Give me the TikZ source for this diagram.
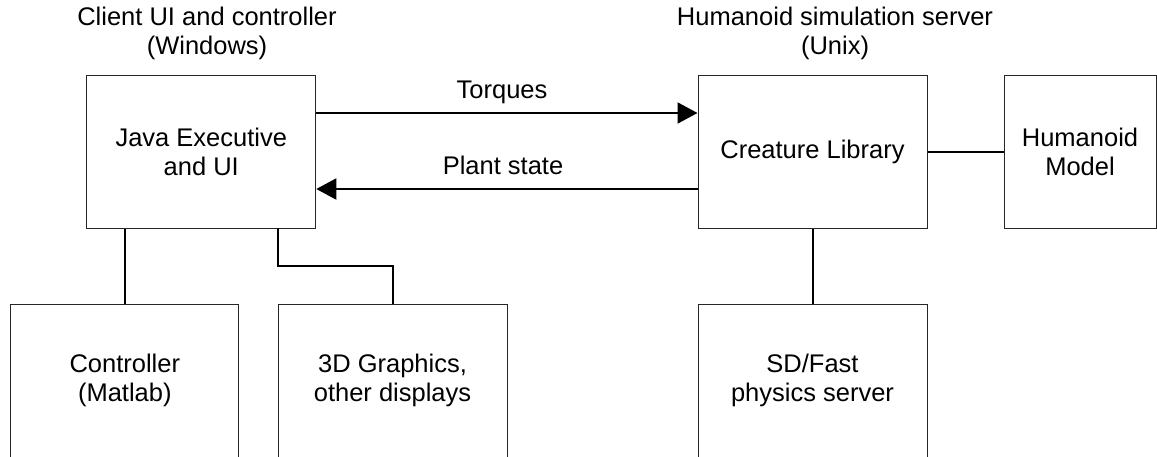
\documentclass[tikz,border=0pt]{standalone}
\usepackage{fontspec}
\setmainfont{Liberation Sans}
\usetikzlibrary{arrows.meta,calc}
\tikzset{
  box/.style={draw=black!85, line width=1pt, minimum width=229pt, minimum height=153pt, inner sep=0pt, align=center, font=\fontsize{25.5}{29}\selectfont},
  lbl/.style={inner sep=0pt, align=center, font=\fontsize{25.5}{29}\selectfont},
  conn/.style={draw=black, line width=2pt},
  arr/.style={conn, -{Triangle[length=20pt,width=21pt]}}
}
\begin{document}
\begin{tikzpicture}[x=1pt,y=-1pt]
\useasboundingbox (0,0) rectangle (1157,456);
\node[box] (java) at (201.3,151.5) {Java Executive\\and UI};
\node[box] (cre) at (812.5,151.5) {Creature Library};
\node[box, minimum width=152pt] (hum) at (1080,151.5) {Humanoid\\Model};
\node[box, minimum width=228.3pt] (ctrl) at (124.8,380.5) {Controller\\(Matlab)};
\node[box] (gfx) at (392.5,380.5) {3D Graphics,\\other displays};
\node[box] (sdf) at (812.5,380.5) {SD/Fast\\physics server};
\node[lbl] (tclient) at (207,33.5) {Client UI and controller\\(Windows)};
\node[lbl] (tserver) at (835,33.5) {Humanoid simulation server\\(Unix)};
\node[lbl, anchor=base] (ltorq) at (502,98) {Torques};
\node[lbl, anchor=base] (lplant) at (503,174) {Plant state};
\draw[arr] ($(java.east)+(0,-38.5)$) -- ($(cre.west)+(0,-38.5)$);
\draw[arr] ($(cre.west)+(0,37.5)$) -- ($(java.east)+(0,37.5)$);
\draw[conn] (cre.east) -- (hum.west);
\draw[conn] (java.south -| ctrl.north) -- (ctrl.north);
\coordinate (jt) at (278,228);
\draw[conn] (jt) |- ($(gfx.north)+(0,-38)$) -- (gfx.north);
\draw[conn] (cre.south -| sdf.north) -- (sdf.north);
\end{tikzpicture}
\end{document}
